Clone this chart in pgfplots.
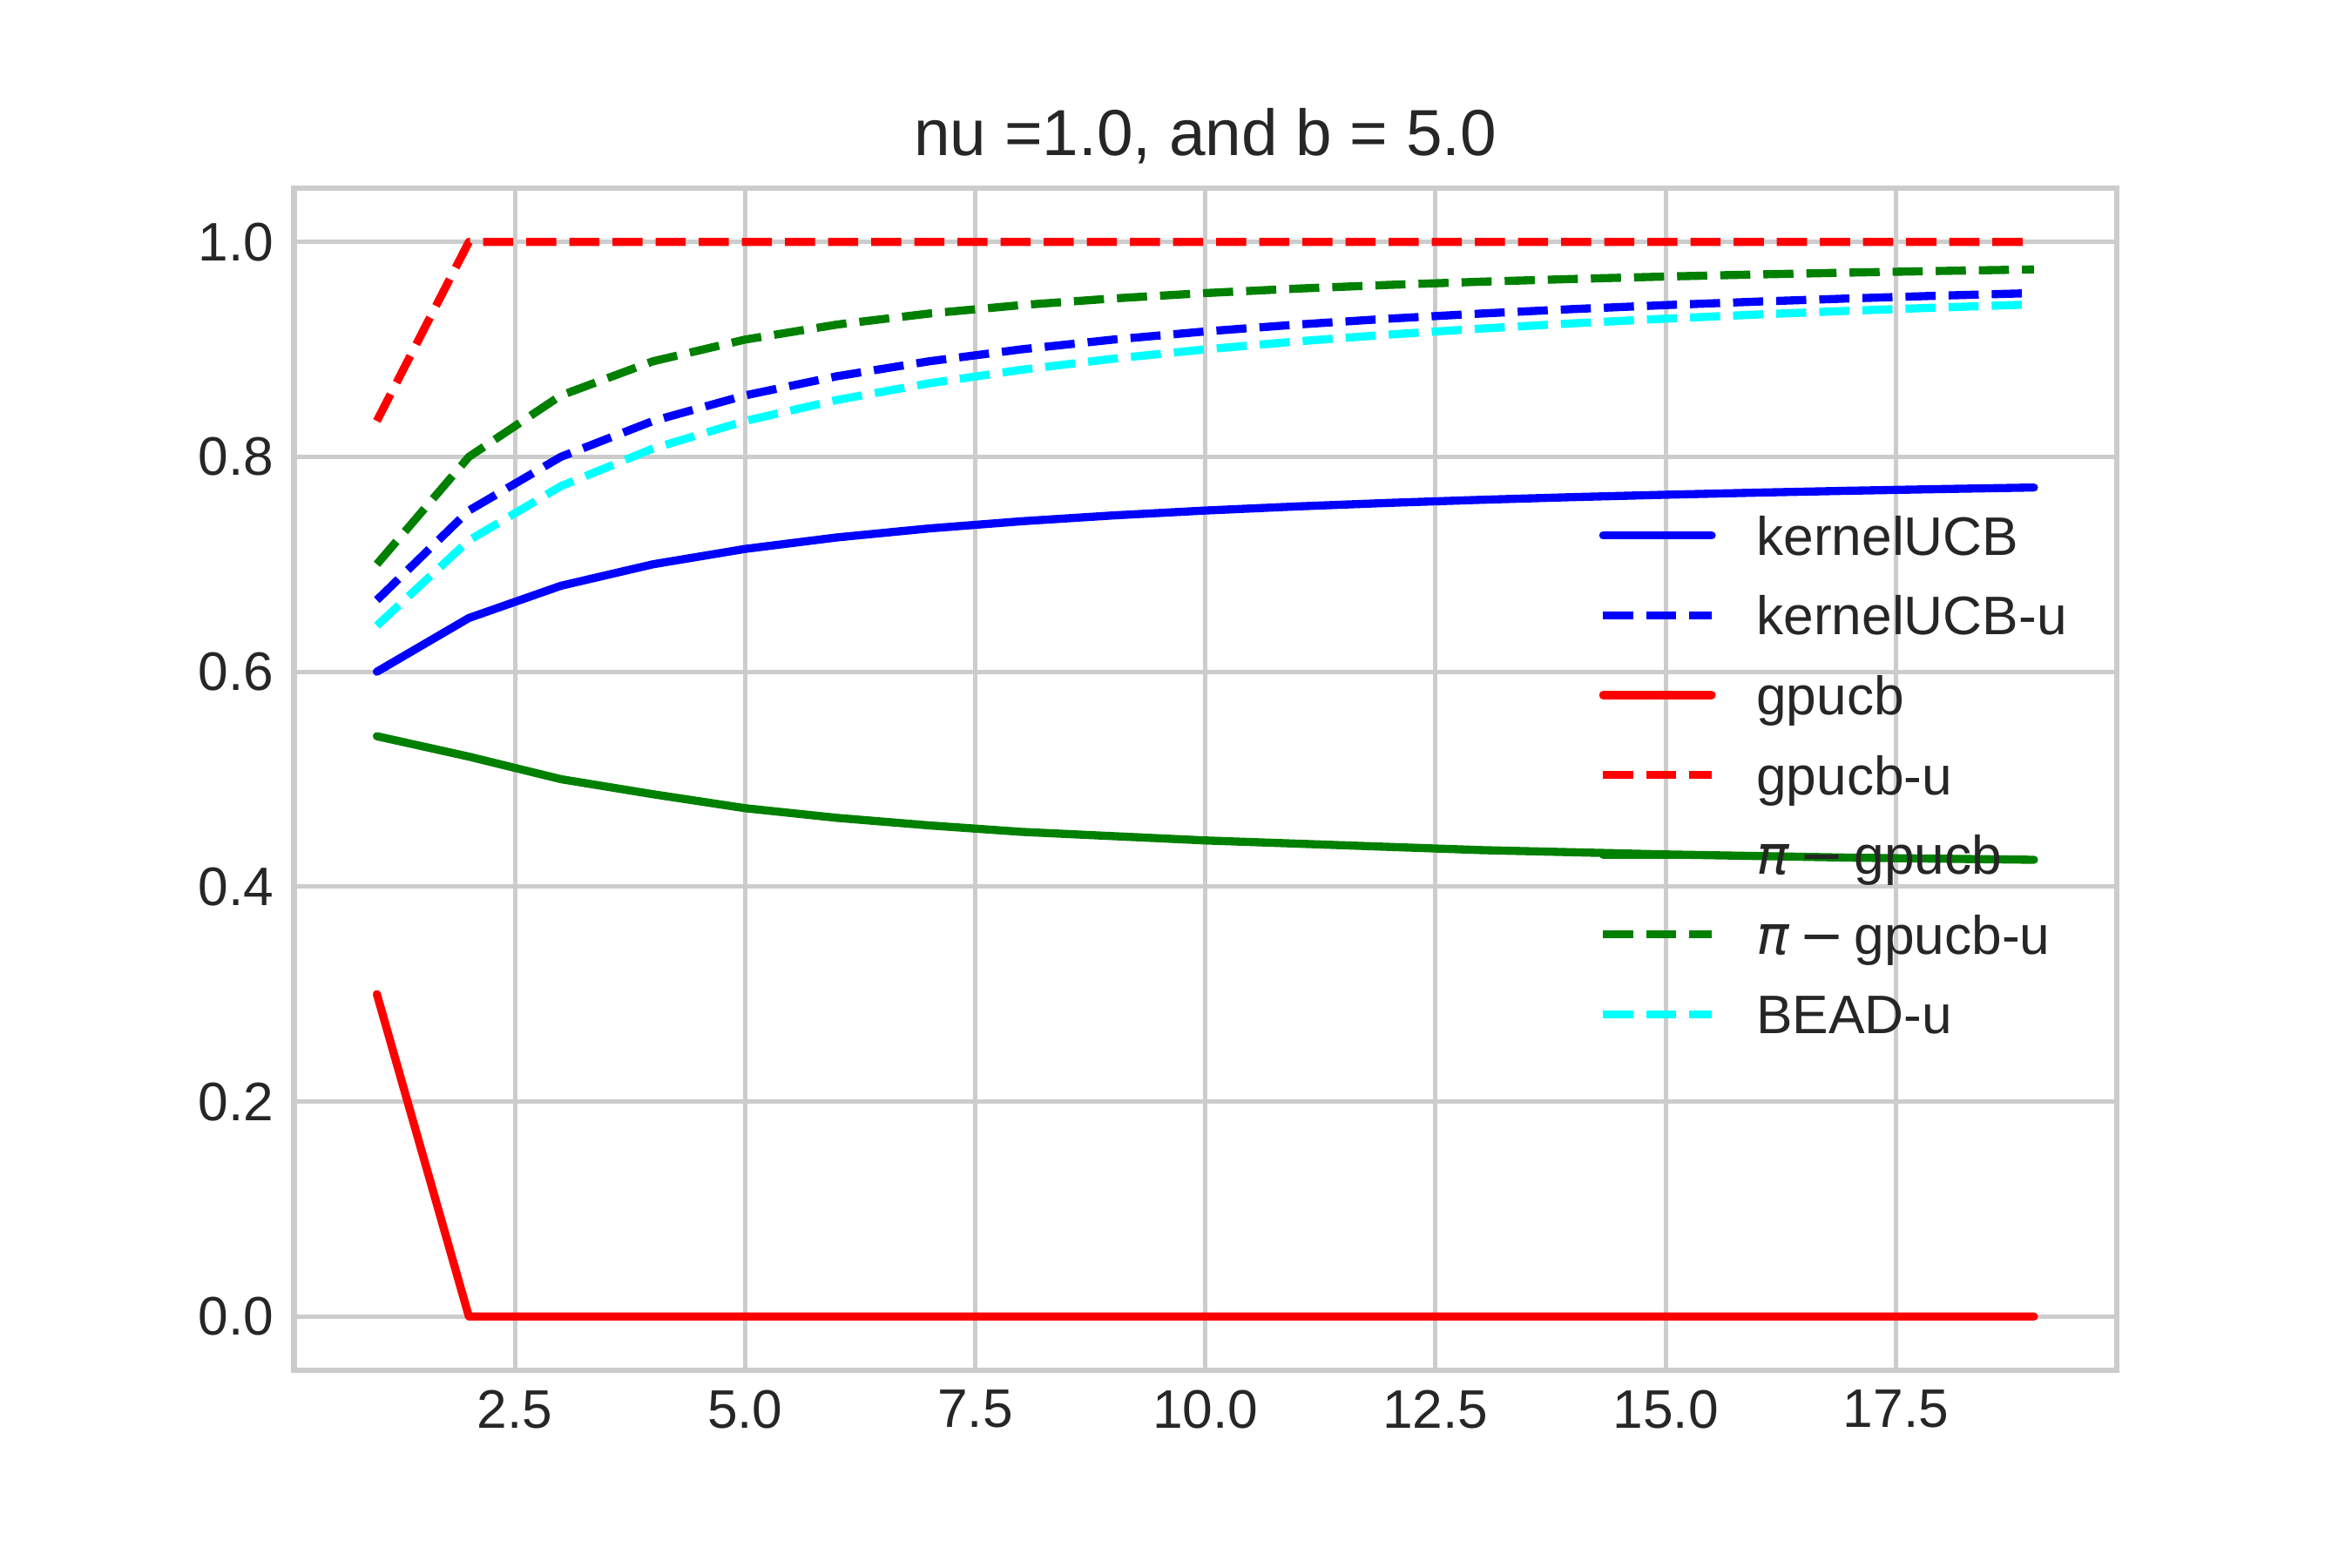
\documentclass[border=0pt]{standalone}
\usepackage{fontspec}
\setmainfont{Liberation Sans}
\newfontfamily\dejavu{DejaVu Sans}
\usepackage{pgfplots}
\pgfplotsset{compat=1.18}
\definecolor{txt}{gray}{0.15}
\definecolor{edge}{gray}{0.8}
\definecolor{mgreen}{rgb}{0,0.5,0}
\definecolor{mcyan}{rgb}{0,1,1}
\pgfplotsset{
  solidln/.style={line width=1.5pt, line cap=round, line join=round, solid},
  dashln/.style={line width=1.5pt, line cap=butt, line join=round, dash pattern=on 5.55pt off 2.4pt},
}
\newcommand{\pilabel}{{\dejavu\itshape π}\kern1.8pt{\dejavu −}\kern1.8pt gpucb}
\begin{document}
\begin{tikzpicture}
\path[use as bounding box] (0,0) rectangle (433.62pt,289.08pt);
\begin{axis}[
  at={(54.2pt,36.46pt)}, anchor=south west,
  scale only axis, width=336.06pt, height=217.93pt,
  xmin=0.1, xmax=19.9, ymin=-0.05, ymax=1.05,
  xtick={2.5,5,7.5,10,12.5,15,17.5},
  ytick={0,0.2,0.4,0.6,0.8,1.0},
  /pgf/number format/fixed,
  /pgf/number format/fixed zerofill,
  /pgf/number format/precision=1,
  /pgf/number format/assume math mode=true,
  grid=major,
  major grid style={edge, line width=0.8pt},
  axis line style={edge, line width=1pt},
  major tick length=0pt,
  tick style={draw=none},
  tick label style={font=\fontsize{10}{12}\selectfont, text=txt, inner sep=0pt},
  xticklabel style={anchor=north, yshift=-3.5pt},
  yticklabel style={anchor=east, xshift=-3.5pt},
  title={nu =1.0, and b = 5.0},
  every axis title shift=0pt,
  title style={at={(0.5,1)}, anchor=base, yshift=6pt, inner sep=0pt,
    font=\fontsize{12}{14}\selectfont, text=txt},
  no markers,
  legend cell align=left,
  legend image code/.code={\draw[#1] (0pt,0pt) -- (20pt,0pt);},
  legend style={draw=none, fill=none, at={(0.716,0.5036)}, anchor=west,
    inner sep=0pt, outer sep=0pt, row sep=7.51pt, column sep=7.5pt,
    font=\fontsize{10}{12}\selectfont, text=txt,
    nodes={inner sep=0pt, text height=7.2pt, text depth=0pt}},
]
% kernelUCB
\addplot[blue, solidln] coordinates {
(1,0.6) (2,0.65) (3,0.68) (4,0.7) (5,0.714286) (6,0.725) (7,0.733333) (8,0.74) (9,0.745455) (10,0.75)
(11,0.753846) (12,0.757143) (13,0.76) (14,0.7625) (15,0.764706) (16,0.766667) (17,0.768421) (18,0.77) (19,0.771429)};
\addlegendentry{kernelUCB}
% kernelUCB-u
\addplot[blue, dashln] coordinates {
(1,0.666667) (2,0.75) (3,0.8) (4,0.833333) (5,0.857143) (6,0.875) (7,0.888889) (8,0.9) (9,0.909091) (10,0.916667)
(11,0.923077) (12,0.928571) (13,0.933333) (14,0.9375) (15,0.941176) (16,0.944444) (17,0.947368) (18,0.95) (19,0.952381)};
\addlegendentry{kernelUCB-u}
% gpucb
\addplot[red, solidln] coordinates {
(1,0.3) (2,0) (3,0) (4,0) (5,0) (6,0) (7,0) (8,0) (9,0) (10,0)
(11,0) (12,0) (13,0) (14,0) (15,0) (16,0) (17,0) (18,0) (19,0)};
\addlegendentry{gpucb}
% gpucb-u
\addplot[red, dashln] coordinates {
(1,0.833333) (2,1) (3,1) (4,1) (5,1) (6,1) (7,1) (8,1) (9,1) (10,1)
(11,1) (12,1) (13,1) (14,1) (15,1) (16,1) (17,1) (18,1) (19,1)};
\addlegendentry{gpucb-u}
% pi-gpucb
\addplot[mgreen, solidln] coordinates {
(1,0.540) (2,0.521) (3,0.500) (4,0.486) (5,0.473) (6,0.464) (7,0.457) (8,0.451) (9,0.447) (10,0.443)
(11,0.440) (12,0.437) (13,0.434) (14,0.432) (15,0.430) (16,0.4285) (17,0.427) (18,0.426) (19,0.425)};
\addlegendentry{\pilabel}
% pi-gpucb-u
\addplot[mgreen, dashln] coordinates {
(1,0.7) (2,0.8) (3,0.857143) (4,0.888889) (5,0.909091) (6,0.923077) (7,0.933333) (8,0.941176) (9,0.947368) (10,0.952381)
(11,0.956522) (12,0.96) (13,0.962963) (14,0.965517) (15,0.967742) (16,0.969697) (17,0.971429) (18,0.972973) (19,0.974359)};
\addlegendentry{\pilabel-u}
% BEAD-u
\addplot[mcyan, dashln] coordinates {
(1,0.642857) (2,0.722222) (3,0.772727) (4,0.807692) (5,0.833333) (6,0.852941) (7,0.868421) (8,0.880952) (9,0.891304) (10,0.9)
(11,0.907407) (12,0.913793) (13,0.919355) (14,0.924242) (15,0.928571) (16,0.932432) (17,0.935897) (18,0.939024) (19,0.941860)};
\addlegendentry{BEAD-u}
\end{axis}
\end{tikzpicture}
\end{document}
